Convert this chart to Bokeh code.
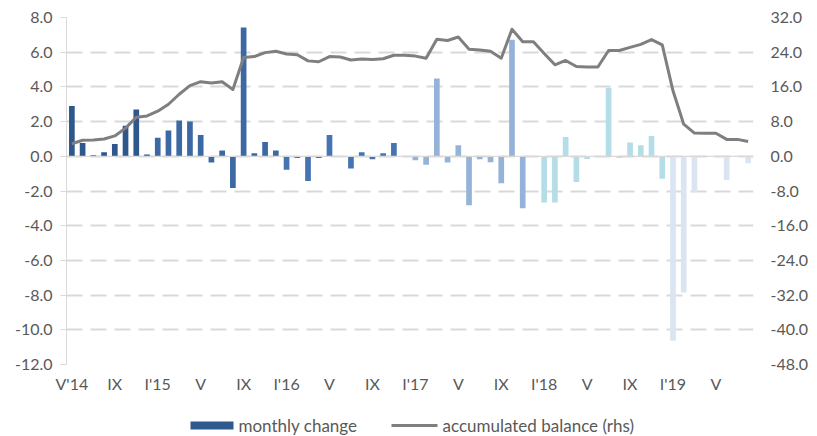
from bokeh.plotting import figure
from bokeh.layouts import column
from bokeh.models import (Range1d, LinearAxis, FixedTicker, NumeralTickFormatter,
                          Span, ColumnDataSource)
from bokeh.core.properties import value
from bokeh.embed import file_html
from bokeh.resources import INLINE

# ---- data (May 2014 .. Aug 2019, monthly) ----
month_index = list(range(64))
years = [2014] * 8 + [2015] * 12 + [2016] * 12 + [2017] * 12 + [2018] * 12 + [2019] * 8
monthly_change = [
    2.90, 0.77, 0.06, 0.23, 0.71, 1.76, 2.70, 0.11,
    1.07, 1.48, 2.07, 2.01, 1.23, -0.36, 0.34, -1.82, 7.43, 0.17, 0.82, 0.34,
    -0.77, -0.10, -1.42, -0.10, 1.23, -0.04, -0.71, 0.23, -0.17, 0.17, 0.77, 0.00,
    -0.23, -0.48, 4.48, -0.36, 0.63, -2.82, -0.17, -0.34, -1.55, 6.72, -3.00, 0.00,
    -2.66, -2.66, 1.11, -1.48, -0.15, 0.00, 3.95, -0.10, 0.80, 0.63, 1.17, -1.30,
    -10.63, -7.85, -2.05, 0.03, 0.02, -1.36, 0.03, -0.40,
]
accumulated_balance = [
    2.9, 3.7, 3.75, 4.0, 4.7, 6.5, 9.0, 9.3,
    10.4, 12.0, 14.3, 16.3, 17.2, 16.9, 17.2, 15.4, 22.8, 23.0, 23.9, 24.2,
    23.6, 23.4, 22.0, 21.8, 23.0, 22.9, 22.2, 22.45, 22.3, 22.5, 23.3, 23.3,
    23.1, 22.6, 27.0, 26.7, 27.5, 24.7, 24.5, 24.2, 22.6, 29.3, 26.4, 26.4,
    23.7, 21.1, 22.1, 20.7, 20.6, 20.6, 24.4, 24.4, 25.1, 25.8, 26.9, 25.7,
    15.1, 7.4, 5.35, 5.3, 5.3, 3.9, 3.9, 3.4,
]
tick_positions = [0, 4, 8, 12, 16, 20, 24, 28, 32, 36, 40, 44, 48, 52, 56, 60]
tick_labels = ["V'14", "IX", "I'15", "V", "IX", "I'16", "V", "IX", "I'17", "V",
               "IX", "I'18", "V", "IX", "I'19", "V"]
left_ticks = [8, 6, 4, 2, 0, -2, -4, -6, -8, -10, -12]
right_ticks = [32, 24, 16, 8, 0, -8, -16, -24, -32, -40, -48]
legend_labels = ["monthly change", "accumulated balance (rhs)"]

year_colors = {2014: "#2E578C", 2015: "#3C69A3", 2016: "#4674B2",
               2017: "#95B3D9", 2018: "#B4DDE8", 2019: "#DBE5F2"}
BAR_LEGEND = "#2F5A8E"
LINE_COLOR = "#7F7F7F"

FONT = "Lato"
TXT = "#595959"
GRID = "#D9D9D9"

src = ColumnDataSource(dict(x=month_index, top=monthly_change,
                            color=[year_colors[y] for y in years]))
line_src = ColumnDataSource(dict(x=month_index, y=accumulated_balance))

W = 812
LEFT, FW = 66, 687
p = figure(frame_width=FW, frame_height=347, output_backend="svg", toolbar_location=None,
           x_range=Range1d(-0.5, 63.5), y_range=Range1d(-12, 8),
           min_border_left=LEFT, min_border_right=W - LEFT - FW, min_border_top=17,
           min_border_bottom=34)
p.outline_line_color = None
p.background_fill_color = "white"
p.border_fill_color = "white"
p.extra_y_ranges = {"rhs": Range1d(-48, 32)}

# grid
p.xgrid.grid_line_color = None
p.ygrid.ticker = FixedTicker(ticks=left_ticks)
p.ygrid.grid_line_color = GRID
p.ygrid.grid_line_width = 2
p.ygrid.grid_line_dash = "16 8"

bars = p.vbar(x="x", top="top", bottom=0, width=0.53, source=src,
              fill_color="color", line_color=None)
p.add_layout(Span(location=0, dimension="width", line_color=GRID, line_width=1.2))
line = p.line("x", "y", source=line_src, y_range_name="rhs", line_color=LINE_COLOR,
              line_width=3, line_join="round")

# left axis
ya = p.yaxis[0]
ya.ticker = FixedTicker(ticks=left_ticks)
ya.formatter = NumeralTickFormatter(format="0.0")
ya.axis_line_color = GRID
ya.major_tick_line_color = GRID
ya.major_tick_out = 6
ya.major_tick_in = 0
ya.minor_tick_line_color = None
ya.major_label_standoff = 8
ya.major_label_text_font = FONT
ya.major_label_text_font_size = "16px"
ya.major_label_text_color = TXT

# right axis
ra = LinearAxis(y_range_name="rhs", ticker=FixedTicker(ticks=right_ticks),
                formatter=NumeralTickFormatter(format="0.0"))
ra.axis_line_color = None
ra.major_tick_line_color = None
ra.major_tick_in = 0
ra.major_tick_out = 0
ra.minor_tick_line_color = None
ra.major_label_standoff = 17
ra.major_label_text_font = FONT
ra.major_label_text_font_size = "16px"
ra.major_label_text_color = TXT
p.add_layout(ra, "right")

# bottom axis
xa = p.xaxis[0]
xa.ticker = FixedTicker(ticks=tick_positions)
xa.major_label_overrides = {t: l for t, l in zip(tick_positions, tick_labels)}
xa.axis_line_color = None
xa.major_tick_line_color = None
xa.major_tick_in = 0
xa.major_tick_out = 0
xa.minor_tick_line_color = None
xa.major_label_standoff = 9
xa.major_label_text_font = FONT
xa.major_label_text_font_size = "16px"
xa.major_label_text_color = TXT

# ---- legend strip (x in page pixels; its frame is aligned with the chart's frame) ----
LH = 38
lg = figure(width=W, height=LH, output_backend="svg", toolbar_location=None,
            x_range=Range1d(LEFT, LEFT + FW), y_range=Range1d(0, LH),
            x_axis_type=None, y_axis_type=None, min_border=0,
            min_border_left=LEFT, min_border_right=W - LEFT - FW)
lg.outline_line_color = None
lg.xgrid.grid_line_color = None
lg.ygrid.grid_line_color = None
lg.background_fill_color = "white"
lg.border_fill_color = "white"
ly = 11
lg.quad(left=[190], right=[233], bottom=[ly - 4], top=[ly + 4],
        fill_color=BAR_LEGEND, line_color=None)
lg.line(x=[391, 437], y=[ly, ly], line_color=LINE_COLOR, line_width=3)
lg.text(x=[238, 442], y=[ly, ly], text=legend_labels, text_font=value(FONT),
        text_font_size=value("17px"), text_color=TXT, text_baseline="middle",
        text_align="left")

layout = column(p, lg, spacing=0)
open("out.html", "w").write(file_html(layout, INLINE))
